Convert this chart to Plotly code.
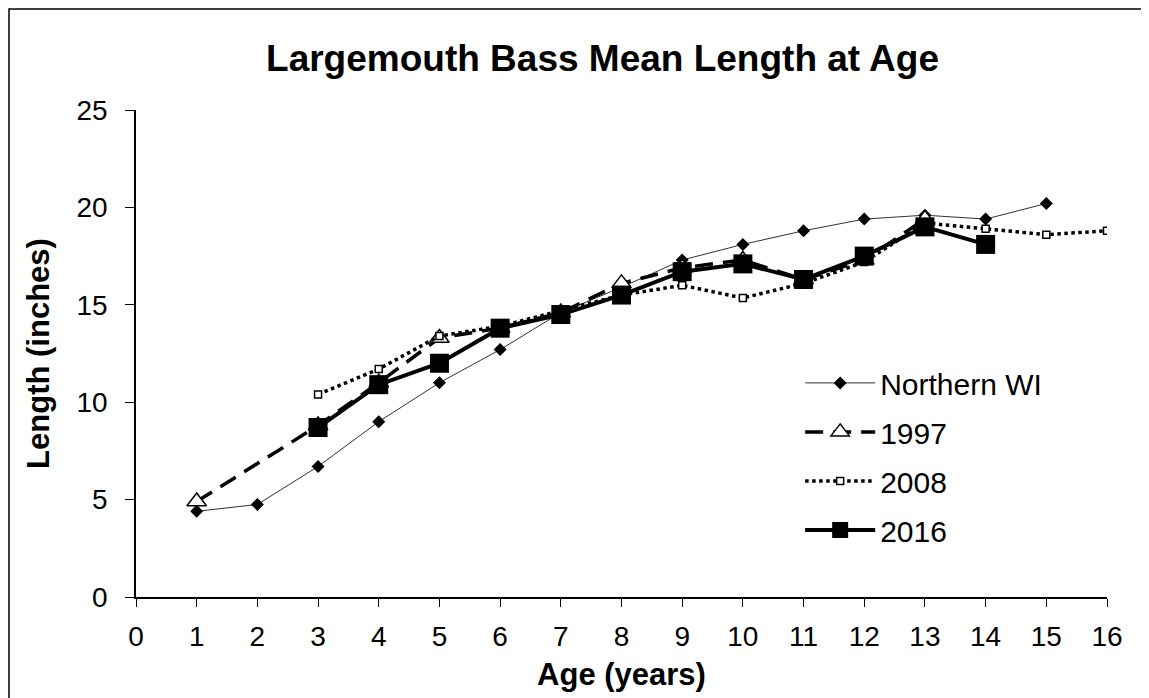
import plotly.graph_objects as go

# данные
ages_nwi = [1, 2, 3, 4, 5, 6, 7, 8, 9, 10, 11, 12, 13, 14, 15]
len_nwi = [4.4, 4.75, 6.7, 9.0, 11.0, 12.7, 14.6, 15.9, 17.3, 18.1, 18.8, 19.4, 19.6, 19.4, 20.2]

ages_1997 = [1, 3, 4, 5, 6, 7, 8, 9, 10, 11, 12, 13]
len_1997 = [4.9, 8.8, 11.0, 13.3, 13.8, 14.6, 16.1, 16.9, 17.3, 16.3, 17.3, 19.4]

ages_2008 = [3, 4, 5, 6, 7, 8, 9, 10, 11, 12, 13, 14, 15, 16]
len_2008 = [10.4, 11.7, 13.4, 13.9, 14.7, 15.5, 16.0, 15.35, 16.1, 17.2, 19.2, 18.9, 18.6, 18.8]

ages_2016 = [3, 4, 5, 6, 7, 8, 9, 10, 11, 12, 13, 14]
len_2016 = [8.7, 10.9, 12.0, 13.8, 14.5, 15.5, 16.7, 17.1, 16.3, 17.5, 19.0, 18.1]

x_ticks = list(range(0, 17))
y_ticks = [0, 5, 10, 15, 20, 25]

FONT = "Liberation Sans, Arial, sans-serif"

# страница сдвигает график на 8px (отступ body)
W, H = 1141, 690
L, R, T, B = 128, 42, 102, 101
PW, PH = W - L - R, H - T - B

fig = go.Figure()

fig.add_trace(go.Scatter(
    x=ages_nwi, y=len_nwi, name="Northern WI", mode="lines+markers",
    line=dict(color="#333333", width=1),
    marker=dict(symbol="diamond", size=10, color="black"),
    legendgroup="a"
))
fig.add_trace(go.Scatter(
    x=ages_1997, y=len_1997, name="1997", mode="lines+markers",
    line=dict(color="black", width=3.5, dash="18px,10px"),
    marker=dict(symbol="triangle-up", size=17, color="white", line=dict(color="black", width=1.5)),
    legendgroup="b"
))
fig.add_trace(go.Scatter(
    x=ages_2008, y=len_2008, name="2008", mode="lines+markers",
    line=dict(color="black", width=3.5, dash="dot"),
    marker=dict(symbol="square", size=7, color="white", line=dict(color="black", width=1.5)),
    legendgroup="c"
))
fig.add_trace(go.Scatter(
    x=ages_2016, y=len_2016, name="2016", mode="lines+markers",
    line=dict(color="black", width=4),
    marker=dict(symbol="square", size=19, color="black"),
    legendgroup="d"
))

# рамка вокруг всей картинки
fig.add_shape(type="rect", xref="paper", yref="paper",
              x0=-(L - 1) / PW, x1=(W - 2 - L) / PW, y0=-0.3, y1=(PH + T - 1) / PH,
              line=dict(color="black", width=1.5), fillcolor="rgba(0,0,0,0)")

fig.update_layout(
    width=W, height=H,
    margin=dict(l=L, r=R, t=T, b=B),
    paper_bgcolor="white", plot_bgcolor="white",
    font=dict(family=FONT, size=28, color="black"),
    title=dict(text="<b>Largemouth Bass Mean Length at Age</b>",
               xref="paper", x=0.5 - 19 / PW, xanchor="center",
               y=1 - 50 / H, yanchor="middle",
               font=dict(size=37, family=FONT)),
    legend=dict(x=0.684, y=0.493, xanchor="left", yanchor="top",
                traceorder="grouped", tracegroupgap=7, itemwidth=70,
                font=dict(size=30, family=FONT), bgcolor="rgba(0,0,0,0)"),
    showlegend=True,
)

fig.update_xaxes(
    range=[0, 16], tickvals=x_ticks, ticktext=[str(v) for v in x_ticks],
    showline=True, linecolor="black", linewidth=1.5, showgrid=False, zeroline=False,
    ticks="outside", ticklen=8, tickcolor="black", tickwidth=1,
    tickfont=dict(size=28, family=FONT), automargin=False, ticklabelstandoff=6,
    title=dict(text="<b>Age (years)</b>", font=dict(size=31, family=FONT), standoff=12),
)
fig.update_yaxes(
    range=[0, 25], tickvals=y_ticks,
    showline=True, linecolor="black", linewidth=1.5, showgrid=False, zeroline=False,
    ticks="outside", ticklen=9, tickcolor="black", tickwidth=1,
    tickfont=dict(size=28, family=FONT), automargin=False, ticklabelstandoff=12,
    title=dict(text="<b>Length (inches)</b>", font=dict(size=31, family=FONT), standoff=18),
)

fig.write_html("out.html")
